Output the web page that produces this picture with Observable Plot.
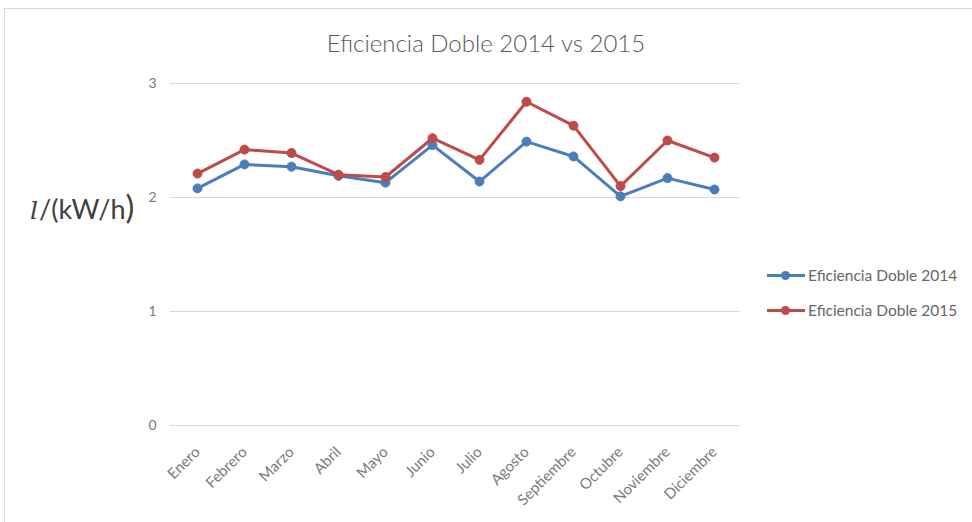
<!DOCTYPE html>
<html>
<head>
<meta charset="utf-8">
<script src="https://cdn.jsdelivr.net/npm/d3@7"></script>
<script src="https://cdn.jsdelivr.net/npm/@observablehq/plot@0.6"></script>
<style>
  html, body { margin: 0; padding: 0; background: #fff; }
  #wrap { position: relative; width: 972px; height: 522px; overflow: hidden; font-family: Lato, "Open Sans", sans-serif; }
  #frame { position: absolute; left: 4px; top: 8px; width: 980px; height: 530px; border: 1px solid #d9d9d9; box-sizing: border-box; }
  #title { position: absolute; left: 0; width: 972px; top: 28px; text-align: center; font-size: 24px; font-weight: 300; color: #595959; }
  #ylabel { position: absolute; left: 30px; top: 186px; font-size: 27px; color: #404040; white-space: nowrap; }
  #ylabel i { font-family: "DejaVu Serif", serif; font-size: 25px; margin-right: 1px; }
  #ylabel .big { font-size: 33px; }
  .leg { position: absolute; left: 767px; font-size: 15.5px; color: #666; display: flex; align-items: center; white-space: nowrap; }
  .leg .sw { position: relative; width: 38px; height: 12px; margin-right: 3px; }
  .leg .sw .ln { position: absolute; left: 0; right: 0; top: 4.5px; height: 3px; }
  .leg .sw .dot { position: absolute; left: 14px; top: 1.5px; width: 9px; height: 9px; border-radius: 50%; }
  #plot { position: absolute; left: 0; top: 0; }
</style>
</head>
<body>
<div id="wrap">
  <div id="frame"></div>
  <div id="plot"></div>
  <div id="title">Eficiencia Doble 2014 vs 2015</div>
  <div id="ylabel"><i>l</i>/(kW/h<span class="big">)</span></div>
  <div id="legend"></div>
</div>
<script>
const months = ["Enero","Febrero","Marzo","Abril","Mayo","Junio","Julio","Agosto","Septiembre","Octubre","Noviembre","Diciembre"];
const serie2014 = [2.08, 2.29, 2.27, 2.19, 2.13, 2.46, 2.14, 2.49, 2.36, 2.01, 2.17, 2.07];
const serie2015 = [2.21, 2.42, 2.39, 2.20, 2.18, 2.52, 2.33, 2.84, 2.63, 2.10, 2.50, 2.35];
const seriesNames = ["Eficiencia Doble 2014", "Eficiencia Doble 2015"];
const colors = ["#4a7ebb", "#be4b48"];
const yTicks = [0, 1, 2, 3];

const data = [];
months.forEach((m, i) => {
  data.push({month: m, value: serie2014[i], serie: seriesNames[0]});
  data.push({month: m, value: serie2015[i], serie: seriesNames[1]});
});

const chart = Plot.plot({
  width: 972,
  height: 522,
  marginLeft: 170,
  marginRight: 232,
  marginTop: 83,
  marginBottom: 97,
  style: {fontFamily: "Lato, 'Open Sans', sans-serif", fontSize: "14px", background: "transparent"},
  x: {type: "point", domain: months, padding: 0.5, label: null},
  y: {domain: [0, 3], ticks: yTicks, label: null},
  color: {domain: seriesNames, range: colors},
  marks: [
    Plot.ruleY(yTicks, {stroke: "#d9d9d9", strokeWidth: 1}),
    Plot.axisY({ticks: yTicks, tickSize: 0, tickPadding: 14, fontSize: 14, fill: "#7a7a7a", tickFormat: d3.format("d"), label: null}),
    Plot.axisX({tickSize: 0, tickPadding: 24, tickRotate: -45, fontSize: 15, fill: "#7a7a7a", label: null}),
    Plot.line(data, {x: "month", y: "value", stroke: "serie", strokeWidth: 3, curve: "linear"}),
    Plot.dot(data, {x: "month", y: "value", fill: "serie", r: 4.5, stroke: "serie", strokeWidth: 1})
  ]
});
document.getElementById("plot").appendChild(chart);

const legend = document.getElementById("legend");
seriesNames.forEach((name, i) => {
  const d = document.createElement("div");
  d.className = "leg";
  d.style.top = (266 + i * 35) + "px";
  d.innerHTML = `<div class="sw"><div class="ln" style="background:${colors[i]}"></div><div class="dot" style="background:${colors[i]}"></div></div><span>${name}</span>`;
  legend.appendChild(d);
});
</script>
</body>
</html>
